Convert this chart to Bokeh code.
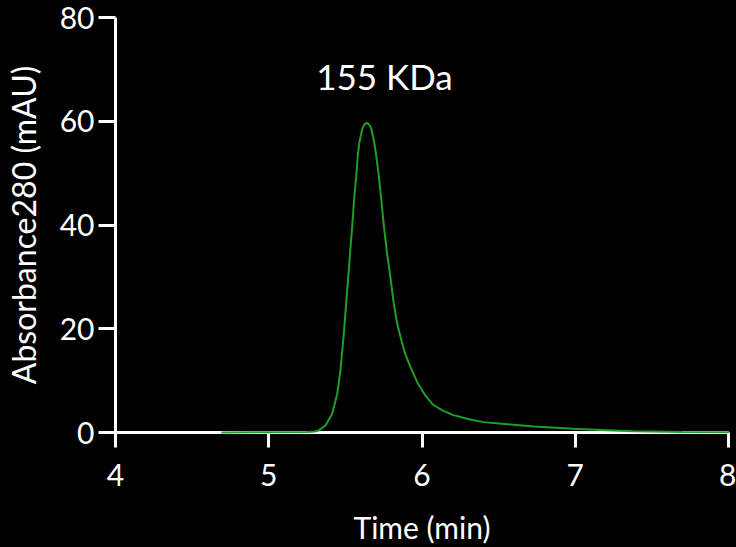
from bokeh.plotting import figure
from bokeh.models import Range1d, Label, FixedTicker
from bokeh.embed import file_html
from bokeh.resources import INLINE

# Chromatogram
time_min = [4.69, 5.0, 5.25, 5.30, 5.327, 5.370, 5.414, 5.447, 5.468, 5.488,
            5.505, 5.522, 5.531, 5.545, 5.557, 5.571, 5.581, 5.592, 5.610, 5.625,
            5.640, 5.655, 5.670, 5.688, 5.701, 5.718, 5.734, 5.751, 5.771, 5.790,
            5.816, 5.838, 5.860, 5.890, 5.925, 5.97, 6.023, 6.07, 6.13, 6.2,
            6.3, 6.4, 6.52, 6.73, 6.99, 7.2, 7.38, 7.7, 8.0]
absorbance = [0.0, 0.05, 0.1, 0.2, 0.4, 1.35, 3.6, 7.45, 12.0, 18.4,
              24.8, 31.2, 34.8, 39.9, 45.0, 49.5, 53.4, 56.0, 58.5, 59.4,
              59.7, 59.4, 58.5, 56.0, 53.4, 49.5, 45.0, 39.9, 34.8, 30.8,
              24.8, 21.0, 18.4, 15.2, 12.6, 9.6, 7.1, 5.4, 4.3, 3.4,
              2.6, 2.0, 1.7, 1.16, 0.7, 0.45, 0.25, 0.12, 0.05]

x_ticks = [4, 5, 6, 7, 8]
y_ticks = [0, 20, 40, 60, 80]
peak_label = "155 KDa"
label_x, label_y = 5.755, 68.8

FONT = "Lato"
WHITE = "#ffffff"
GREEN = "#1f9e2a"

p = figure(width=736, height=547, output_backend="svg", toolbar_location=None,
           x_range=Range1d(4, 8), y_range=Range1d(0, 80),
           min_border_left=115, min_border_right=8, min_border_top=17,
           min_border_bottom=115)
p.background_fill_color = "black"
p.border_fill_color = "black"
p.outline_line_color = None
p.xgrid.visible = False
p.ygrid.visible = False

p.line(time_min, absorbance, line_color=GREEN, line_width=2, level="overlay")

for ax in (p.xaxis[0], p.yaxis[0]):
    ax.axis_line_color = WHITE
    ax.axis_line_width = 3
    ax.major_tick_line_color = WHITE
    ax.major_tick_line_width = 3
    ax.major_tick_in = 0
    ax.minor_tick_line_color = None
    ax.major_label_text_color = WHITE
    ax.major_label_text_font = FONT
    ax.major_label_text_font_size = "30px"
    ax.axis_label_text_color = WHITE
    ax.axis_label_text_font = FONT
    ax.axis_label_text_font_size = "30px"
    ax.axis_label_text_font_style = "normal"

p.xaxis[0].ticker = FixedTicker(ticks=x_ticks)
p.yaxis[0].ticker = FixedTicker(ticks=y_ticks)
p.xaxis[0].major_tick_out = 15
p.yaxis[0].major_tick_out = 17
p.xaxis[0].major_label_standoff = 16
p.yaxis[0].major_label_standoff = 4
p.xaxis[0].axis_label = "Time (min)"
p.yaxis[0].axis_label = "Absorbance280 (mAU)"
p.yaxis[0].axis_label_text_font_size = "32px"
p.xaxis[0].axis_label_standoff = 20
p.yaxis[0].axis_label_standoff = 14

p.add_layout(Label(x=label_x, y=label_y, text=peak_label, text_color=WHITE,
                   text_font=FONT, text_font_size="35px",
                   text_align="center", text_baseline="middle"))

html = file_html(p, INLINE)
css = "<style>html, body { margin: 0; padding: 0; background: #000000; }</style>"
html = html.replace("</head>", css + "</head>", 1)
open("out.html", "w").write(html)
